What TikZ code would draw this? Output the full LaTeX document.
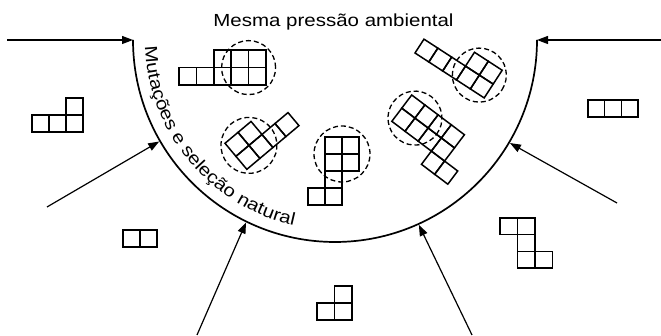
\documentclass[tikz,border=0pt]{standalone}
\usepackage{fontspec}
\usepackage{tikz}
\usetikzlibrary{arrows.meta,calc,decorations.text}
\newfontfamily\rotulo[FakeStretch=1.17]{Liberation Sans}

\begin{document}
\begin{tikzpicture}[x=1pt, y=1pt,
    celula/.style={line width=1.5pt},
    circulo/.style={line width=1.3pt, dash pattern=on 5pt off 3pt},
    seta/.style={line width=1.2pt, -{Triangle[length=11pt,width=8pt]}}]
    \useasboundingbox (0,0) rectangle (661,336);

    % arco (pressao ambiental)
    \coordinate (c) at (335,296);
    \draw[line width=1.7pt] ($(c)+(180:202)$) arc[start angle=180, end angle=360, radius=202];

    % textos
    \node[anchor=base] (pressao) at (333.5,309) {\rotulo\fontsize{17.5}{20}\selectfont Mesma pressão ambiental};
    \path[decorate, decoration={text along path,
        text={|\rotulo\fontsize{17.5}{20}\selectfont|Mutações e seleção natural}}]
        ($(c)+(182:190)$) arc[start angle=182, end angle=280, radius=190];

    % pontos no arco
    \coordinate (e1) at ($(c)+(180:202)$);
    \coordinate (e2) at ($(c)+(210:203)$);
    \coordinate (e3) at ($(c)+(244:203)$);
    \coordinate (e4) at ($(c)+(294.4:203)$);
    \coordinate (e5) at ($(c)+(329.5:203)$);
    \coordinate (e6) at ($(c)+(360:202)$);
    % origem das setas
    \coordinate (s1) at (7,296);
    \coordinate (s2) at (47,129);
    \coordinate (s3) at (197,1);
    \coordinate (s4) at (472,1);
    \coordinate (s5) at (617,133);
    \coordinate (s6) at (661,296);

    \foreach \k in {1,...,6}
        \draw[seta] (s\k) -- (e\k);

    % fora do arco
    \begin{scope}[shift={(32,204)}, x=17pt, y=17pt]
        \foreach \i/\j in {0/0,1/0,2/0,2/1}
            \draw[celula] (\i,\j) rectangle ++(1,1);
    \end{scope}
    \begin{scope}[shift={(123,89)}, x=17pt, y=17pt]
        \foreach \i/\j in {0/0,1/0}
            \draw[celula] (\i,\j) rectangle ++(1,1);
    \end{scope}
    \begin{scope}[shift={(317,16)}, x=17.5pt, y=17pt]
        \foreach \i/\j in {0/0,1/0,1/1}
            \draw[celula] (\i,\j) rectangle ++(1,1);
    \end{scope}
    \begin{scope}[shift={(588,219)}, x=16.7pt, y=17pt]
        \foreach \i/\j in {0/0,1/0,2/0}
            \draw[celula] (\i,\j) rectangle ++(1,1);
    \end{scope}
    \begin{scope}[shift={(500,68)}, x=17.5pt, y=16.7pt]
        \foreach \i/\j in {0/2,1/2,1/1,1/0,2/0}
            \draw[celula] (\i,\j) rectangle ++(1,1);
    \end{scope}

    % dentro do arco
    \begin{scope}[shift={(179,251)}, x=17.4pt, y=17.4pt]
        \foreach \i/\j in {0/0,1/0,2/0,3/0,4/0,2/1,3/1,4/1}
            \draw[celula] (\i,\j) rectangle ++(1,1);
        \draw[circulo] (4,1) circle[radius=27pt];
    \end{scope}
    \begin{scope}[shift={(225,192.7)}, rotate=40, x=17pt, y=17pt]
        \foreach \i/\j in {0/-1,1/-1,0/-2,1/-2,2/-2,3/-2}
            \draw[celula] (\i,\j) rectangle ++(1,1);
        \draw[circulo] (1,-1) circle[radius=28pt];
    \end{scope}
    \begin{scope}[shift={(308,131)}, x=17pt, y=17pt]
        \foreach \i/\j in {0/0,1/0,1/1,1/2,2/2,1/3,2/3}
            \draw[celula] (\i,\j) rectangle ++(1,1);
        \draw[circulo] (2,3) circle[radius=28pt];
    \end{scope}
    \begin{scope}[shift={(415,283)}, rotate=-33, x=16.5pt, y=16.5pt]
        \foreach \i/\j in {0/0,1/0,2/0,3/0,4/0,3/1,4/1}
            \draw[celula] (\i,\j) rectangle ++(1,1);
        \draw[circulo] (4,1) circle[radius=27pt];
    \end{scope}
    \begin{scope}[shift={(411.7,241)}, rotate=-37, x=16.5pt, y=16.5pt]
        \foreach \i/\j in {0/-1,1/-1,2/-1,3/-1,0/-2,1/-2,2/-2,3/-2,3/-3,4/-3}
            \draw[celula] (\i,\j) rectangle ++(1,1);
        \draw[circulo] (1,-1) circle[radius=27pt];
    \end{scope}
\end{tikzpicture}
\end{document}
